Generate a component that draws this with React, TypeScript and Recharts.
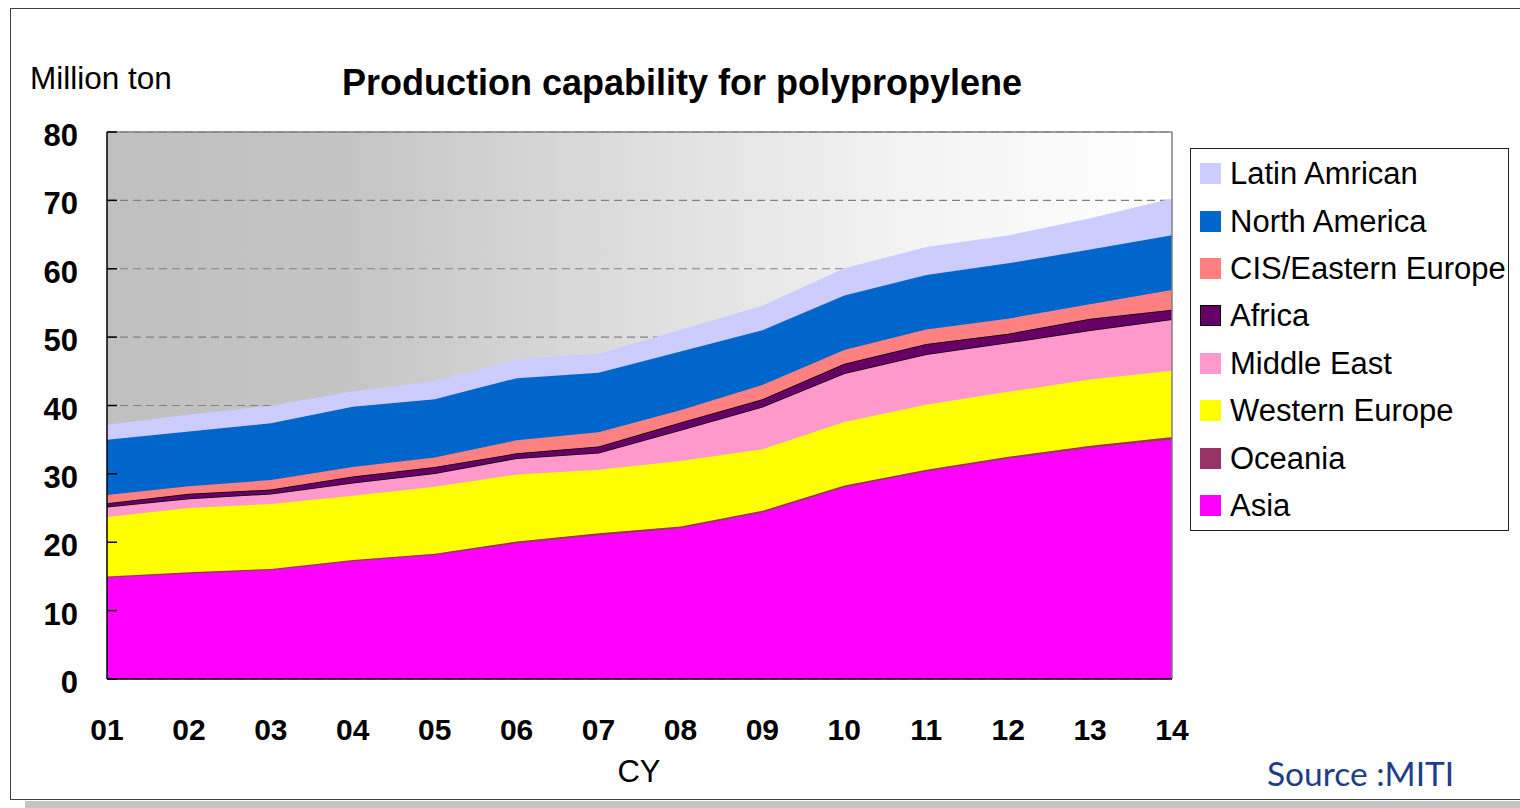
import React from 'react';
import {
  AreaChart, Area, XAxis, YAxis, CartesianGrid, ReferenceLine,
} from 'recharts';

// calendar years (20xx)
const years = ['01', '02', '03', '04', '05', '06', '07', '08', '09', '10', '11', '12', '13', '14'];

// capacity by region, million ton
const asia = [14.8, 15.4, 15.9, 17.2, 18.1, 19.8, 21.0, 22.0, 24.3, 28.0, 30.3, 32.2, 33.8, 35.0];
const oceania = [0.2, 0.2, 0.2, 0.2, 0.2, 0.3, 0.3, 0.3, 0.3, 0.3, 0.3, 0.3, 0.3, 0.4];
const westernEurope = [8.7, 9.4, 9.5, 9.4, 9.8, 9.8, 9.3, 9.6, 9.0, 9.3, 9.5, 9.5, 9.7, 9.7];
const middleEast = [1.5, 1.4, 1.5, 1.9, 2.0, 2.4, 2.5, 4.5, 6.2, 7.1, 7.4, 7.2, 7.2, 7.5];
const africa = [0.5, 0.7, 0.6, 0.9, 0.9, 0.7, 0.9, 1.1, 1.1, 1.4, 1.5, 1.3, 1.7, 1.4];
const cisEasternEurope = [1.2, 1.1, 1.4, 1.4, 1.4, 1.9, 2.1, 1.8, 2.1, 2.0, 2.1, 2.2, 2.1, 2.9];
const northAmerica = [8.1, 8.0, 8.3, 8.8, 8.5, 9.1, 8.7, 8.6, 8.0, 8.0, 8.0, 8.1, 8.0, 8.0];
const latinAmerican = [2.1, 2.4, 2.5, 2.2, 2.6, 2.7, 2.7, 3.1, 3.5, 3.9, 4.0, 4.0, 4.5, 5.3];

const yTicks = [0, 10, 20, 30, 40, 50, 60, 70, 80];

// bottom to top of the stack
const series = [
  { key: 'asia', name: 'Asia', color: '#FF00FF', values: asia, line: '#FF00FF' },
  { key: 'oceania', name: 'Oceania', color: '#993366', values: oceania, line: '#993366' },
  { key: 'we', name: 'Western Europe', color: '#FFFF00', values: westernEurope, line: '#FFFF00' },
  { key: 'me', name: 'Middle East', color: '#FF99CC', values: middleEast, line: '#000000' },
  { key: 'africa', name: 'Africa', color: '#660066', values: africa, line: '#000000' },
  { key: 'cis', name: 'CIS/Eastern Europe', color: '#FF8080', values: cisEasternEurope, line: '#FF8080' },
  { key: 'na', name: 'North America', color: '#0066CC', values: northAmerica, line: '#0066CC' },
  { key: 'la', name: 'Latin Amrican', color: '#CCCCFF', values: latinAmerican, line: '#CCCCFF' },
];

const data = years.map((year, i) => {
  const row: Record<string, string | number> = { year };
  series.forEach((s) => { row[s.key] = s.values[i]; });
  return row;
});

const FONT = '"Liberation Sans", Arial, sans-serif';

// legend drawn as a plain box so it doesn't eat into the plot width
const LegendBox = () => (
  <div style={{
    position: 'absolute', left: 1190, top: 148,
    width: 319, height: 383, boxSizing: 'border-box', border: '1.5px solid #222',
    background: '#fff', paddingTop: 1, fontFamily: FONT,
  }}>
    {[...series].reverse().map((s) => (
      <div key={s.key} style={{ height: 47.4, display: 'flex', alignItems: 'center' }}>
        <span style={{
          display: 'inline-block', width: 21, height: 21, marginLeft: 9, marginRight: 9,
          background: s.color, boxSizing: 'border-box', flex: 'none',
          border: s.key === 'africa' ? '1.5px solid #000' : 'none',
        }} />
        <span style={{ fontSize: 31, lineHeight: 1, color: '#000', whiteSpace: 'nowrap' }}>{s.name}</span>
      </div>
    ))}
  </div>
);

export default function App() {
  return (
    <div style={{ position: 'absolute', left: 0, top: 0, width: 1520, height: 808, background: '#fff', overflow: 'hidden' }}>
      <div style={{ position: 'absolute', left: 25, top: 801, width: 1500, height: 7, background: '#c4c4c4' }} />
      <div style={{ position: 'absolute', left: 10, top: 8, width: 1530, height: 792, boxSizing: 'border-box', border: '1.5px solid #404040' }} />

      <div style={{ position: 'absolute', left: 30, top: 63, fontFamily: FONT, fontSize: 31.5, lineHeight: 1, color: '#000', whiteSpace: 'nowrap' }}>
        Million ton
      </div>
      <div style={{ position: 'absolute', left: 342, top: 65, fontFamily: FONT, fontSize: 36, fontWeight: 'bold', lineHeight: 1, color: '#000', whiteSpace: 'nowrap' }}>
        Production capability for polypropylene
      </div>
      <div style={{ position: 'absolute', left: 639, top: 756, transform: 'translateX(-50%)', fontFamily: FONT, fontSize: 31, lineHeight: 1, color: '#000' }}>
        CY
      </div>
      <div style={{ position: 'absolute', left: 1267, top: 757, fontFamily: 'Lato, sans-serif', fontSize: 33.5, lineHeight: 1, color: '#1F3C88', whiteSpace: 'nowrap' }}>
        Source :MITI
      </div>

      <div style={{ position: 'absolute', left: 0, top: 0 }}>
        <AreaChart
          width={1520}
          height={808}
          data={data}
          margin={{ top: 132, left: 27, right: 348, bottom: 69 }}
        >
          <defs>
            <linearGradient id="plotBg" x1="0" y1="0" x2="1" y2="0">
              <stop offset="0%" stopColor="#c0c0c0" />
              <stop offset="22%" stopColor="#c4c4c4" />
              <stop offset="50%" stopColor="#dedede" />
              <stop offset="75%" stopColor="#f3f3f3" />
              <stop offset="100%" stopColor="#ffffff" />
            </linearGradient>
          </defs>
          <CartesianGrid
            vertical={false}
            fill="url(#plotBg)"
            stroke="#808080"
            strokeDasharray="8 5"
            strokeWidth={1.2}
          />
          <XAxis
            dataKey="year"
            axisLine={{ stroke: '#000', strokeWidth: 1.5 }}
            tickLine={false}
            tickSize={0}
            tickMargin={40}
            height={60}
            interval={0}
            tick={{ fill: '#000', fontFamily: FONT, fontSize: 30, fontWeight: 'bold' }}
          />
          <YAxis
            width={80}
            domain={[0, 80]}
            ticks={yTicks}
            interval={0}
            axisLine={{ stroke: '#000', strokeWidth: 1.5 }}
            tickLine={{ stroke: '#000', strokeWidth: 1.5 }}
            tickSize={-10}
            tickMargin={39}
            tick={{ fill: '#000', fontFamily: FONT, fontSize: 31, fontWeight: 'bold', dy: 3 }}
          />
          {series.map((s) => (
            <Area
              key={s.key}
              type="linear"
              dataKey={s.key}
              name={s.name}
              stackId="cap"
              fill={s.color}
              fillOpacity={1}
              stroke={s.line}
              strokeWidth={s.line === '#000000' ? 1.5 : 1}
              dot={false}
              activeDot={false}
              isAnimationActive={false}
            />
          ))}
          <ReferenceLine y={80} stroke="#808080" strokeWidth={1.5} />
          <ReferenceLine x="14" stroke="#808080" strokeWidth={1.5} />
        </AreaChart>
      </div>
      <LegendBox />
    </div>
  );
}
